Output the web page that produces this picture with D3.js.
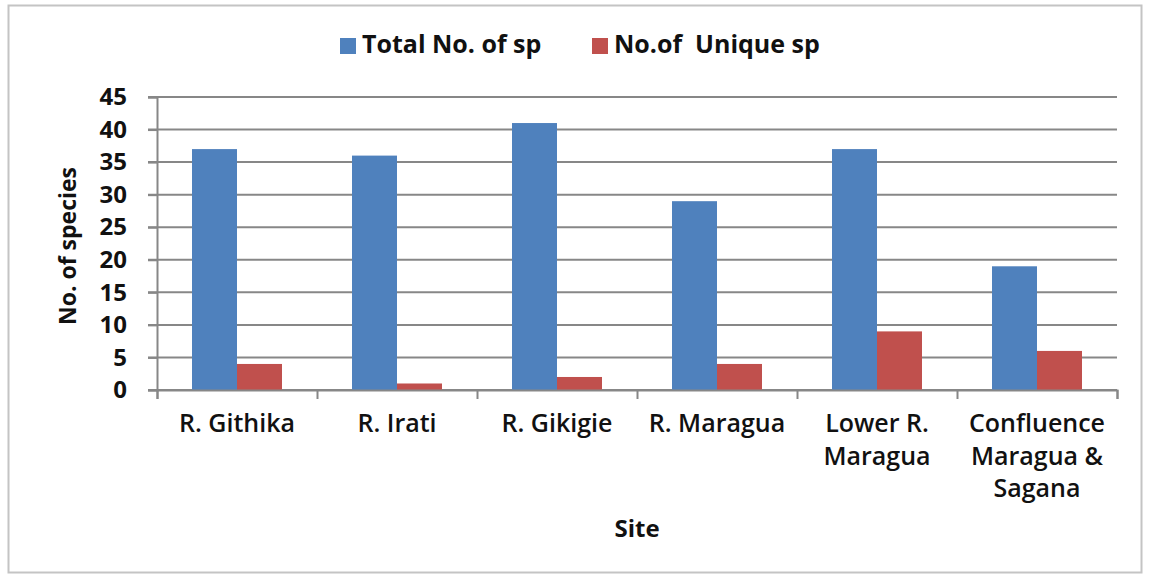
<!DOCTYPE html>
<html>
<head>
<meta charset="utf-8">
<script src="https://cdn.jsdelivr.net/npm/d3@7"></script>
<style>
  body { margin: 0; background: #fff; }
  text { font-family: "Open Sans", sans-serif; fill: #111; }
</style>
</head>
<body>
<div id="chart"></div>
<script>
// Data
const sites = [
    ["R. Githika"],
    ["R. Irati"],
    ["R. Gikigie"],
    ["R. Maragua"],
    ["Lower R.", "Maragua"],
    ["Confluence", "Maragua &", "Sagana"]
]
const totalSp = [37, 36, 41, 29, 37, 19]
const uniqueSp = [4, 1, 2, 4, 9, 6]
const seriesNames = ["Total No. of sp", "No.of  Unique sp"]
const seriesColors = ["#4f81bd", "#c0504d"]
const yTicks = [0, 5, 10, 15, 20, 25, 30, 35, 40, 45]

const width = 1149
const height = 576
const plot = { left: 157, right: 1117, top: 97, bottom: 390 }

const svg = d3.select('#chart')
    .append('svg')
    .attr('width', width)
    .attr('height', height)

// outer frame
svg.append('rect')
    .attr('x', 8.5).attr('y', 5.5)
    .attr('width', 1133).attr('height', 567)
    .attr('fill', 'none')
    .attr('stroke', '#c4c4c4')
    .attr('stroke-width', 2)

// scales
const x0 = d3.scaleBand()
    .domain(d3.range(sites.length))
    .range([plot.left, plot.right])
    .paddingInner(0.4375)
    .paddingOuter(0.21875)

const x1 = d3.scaleBand()
    .domain([0, 1])
    .range([0, x0.bandwidth()])

const yScale = d3.scaleLinear()
    .domain([0, 45])
    .range([plot.bottom, plot.top])

// gridlines
svg.append('g')
    .selectAll('line')
    .data(yTicks)
    .enter()
    .append('line')
    .attr('x1', plot.left - 9)
    .attr('x2', plot.right)
    .attr('y1', d => yScale(d))
    .attr('y2', d => yScale(d))
    .attr('stroke', '#878787')
    .attr('stroke-width', 2)

// y axis
const yAxis = d3.axisLeft(yScale)
    .tickValues(yTicks)
    .tickSize(9)
    .tickPadding(21)

const gy = svg.append('g')
    .attr('transform', 'translate(' + plot.left + ',0)')
    .call(yAxis)
gy.select('.domain').attr('stroke', '#878787').attr('stroke-width', 2)
gy.selectAll('.tick line').attr('stroke', '#878787').attr('stroke-width', 2)
gy.selectAll('.tick text')
    .attr('font-family', 'Lato, sans-serif')
    .attr('font-size', 24)
    .attr('font-weight', 700)
    .attr('fill', '#222')

// bars
const groups = svg.append('g')
    .selectAll('g')
    .data(sites.map((s, i) => [totalSp[i], uniqueSp[i]]))
    .enter()
    .append('g')
    .attr('transform', (d, i) => 'translate(' + x0(i) + ',0)')

groups.selectAll('rect')
    .data(d => d)
    .enter()
    .append('rect')
    .attr('x', (d, j) => x1(j))
    .attr('y', d => yScale(d))
    .attr('width', x1.bandwidth())
    .attr('height', d => yScale(0) - yScale(d))
    .attr('fill', (d, j) => seriesColors[j])

// x axis with ticks between categories
const xAxis = d3.axisBottom(d3.scaleLinear().domain([0, sites.length]).range([plot.left, plot.right]))
    .tickValues(d3.range(sites.length + 1))
    .tickSize(9)
    .tickFormat('')

const gx = svg.append('g')
    .attr('transform', 'translate(0,' + plot.bottom + ')')
    .call(xAxis)
gx.select('.domain').attr('stroke', '#878787').attr('stroke-width', 2)
gx.selectAll('.tick line').attr('stroke', '#878787').attr('stroke-width', 2)

// category labels
const labels = svg.append('g')
    .selectAll('text')
    .data(sites)
    .enter()
    .append('text')
    .attr('text-anchor', 'middle')
    .attr('font-size', 25)
    .attr('font-weight', 600)
    .attr('transform', (d, i) => 'translate(' + (x0(i) + x0.bandwidth() / 2) + ',432)')

labels.selectAll('tspan')
    .data(d => d)
    .enter()
    .append('tspan')
    .attr('x', 0)
    .attr('y', (d, k) => k * 32.5)
    .text(d => d)

// axis titles
svg.append('text')
    .attr('text-anchor', 'middle')
    .attr('font-size', 23)
    .attr('font-weight', 700)
    .attr('transform', 'translate(76,246) rotate(-90)')
    .text('No. of species')

svg.append('text')
    .attr('x', 637)
    .attr('y', 537)
    .attr('text-anchor', 'middle')
    .attr('font-size', 24)
    .attr('font-weight', 700)
    .text('Site')

// legend
const legendX = [340, 592]
const legend = svg.append('g')
    .selectAll('g')
    .data(seriesNames)
    .enter()
    .append('g')
    .attr('transform', (d, i) => 'translate(' + legendX[i] + ',38)')

legend.append('rect')
    .attr('width', 16)
    .attr('height', 16)
    .attr('fill', (d, i) => seriesColors[i])

legend.append('text')
    .attr('x', 22)
    .attr('y', 15)
    .attr('font-size', 25)
    .attr('font-weight', 700)
    .style('white-space', 'pre')
    .text(d => d)
</script>
</body>
</html>
